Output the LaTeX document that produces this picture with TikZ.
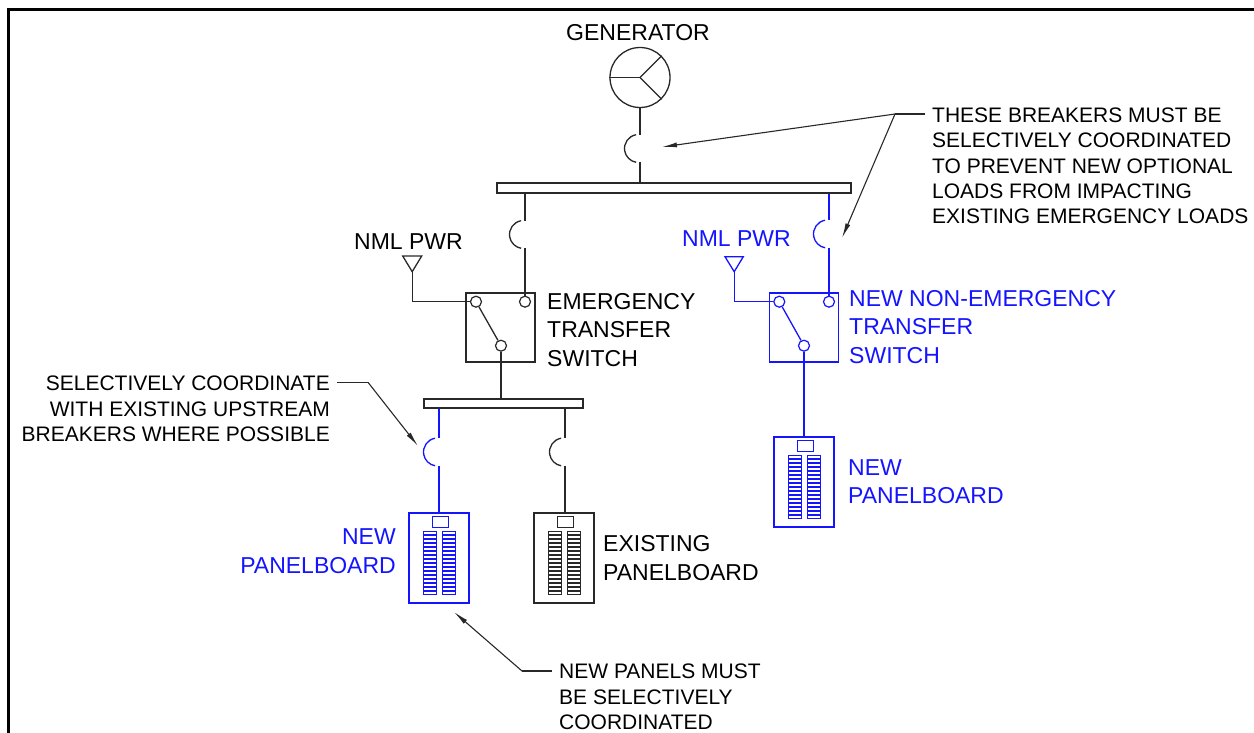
\documentclass[tikz,border=0pt]{standalone}
\usepackage{fontspec}
\setmainfont{Liberation Sans}
\usetikzlibrary{arrows.meta}
\definecolor{ink}{RGB}{40,40,40}
\definecolor{blu}{RGB}{20,20,255}
\tikzset{
  wire/.style={draw=ink, line width=1.3pt},
  bwire/.style={draw=blu, line width=1.3pt},
  lbl/.style={font=\fontsize{23}{28.5}\selectfont, inner sep=0pt},
  note/.style={font=\fontsize{21}{25.3}\selectfont, inner sep=0pt, text=black},
  leader/.style={draw=ink, line width=1.1pt},
  arr/.style={leader, -{Latex[length=15pt,width=5pt]}},
  term/.style={circle, draw, minimum size=11pt, inner sep=0pt, line width=1.2pt, fill=white},
  busbar/.style={draw=ink, line width=1.3pt, inner sep=0pt, fill=white},
  atsbox/.style={draw, line width=1.3pt, minimum width=69pt, minimum height=69pt, inner sep=0pt},
  panelbox/.style={draw, line width=1.2pt, minimum width=60pt, minimum height=90pt, inner sep=0pt},
}
% breaker symbol: #1 name, #2 x of wire, #3 y centre, #4 style
\newcommand{\cbreaker}[4]{%
  \draw[#4] ({#2-1.5},#3) ++(260:14) arc[start angle=260, end angle=100, radius=14];
  \coordinate (#1-t) at (#2,{#3-13.8});
  \coordinate (#1-b) at (#2,{#3+13.8});
}
% panelboard interior relative to top-left corner #1, colour #2
\newcommand{\panelinside}[2]{%
  \begin{scope}[shift={(#1)}, draw=#2, line width=0.8pt]
    \draw (24,4) rectangle (40,15);
    \foreach \i in {0,...,15}{
      \draw (15.3,{18.7+\i*4}) rectangle (28.3,{18.7+\i*4+3});
      \draw (34.3,{18.7+\i*4}) rectangle (47.3,{18.7+\i*4+3});
    }
  \end{scope}
}
\begin{document}
\begin{tikzpicture}[x=1pt,y=-1pt]
\useasboundingbox (0,0) rectangle (1254,733);
% frame
\draw[line width=2.6pt, black] (8.7,745) -- (8.7,9.7) -- (1265,9.7);

% generator
\node[lbl] (genlbl) at (638,33) {GENERATOR};
\node[circle, draw=ink, line width=1.3pt, minimum size=60pt, inner sep=0pt] (gen) at (640,77.5) {};
\draw[wire] (gen.center) -- (gen.west);
\draw[wire] (gen.center) -- (gen.45);
\draw[wire] (gen.center) -- (gen.-45);
\cbreaker{bg}{640}{148.5}{wire}

% main bus
\node[busbar, minimum width=354pt, minimum height=10pt] (bus1) at (674,188) {};
\draw[wire] (gen.south) -- (bg-t);
\draw[wire] (bg-b) -- (bus1.north -| bg-b);

% left branch breaker and emergency ATS
\cbreaker{bl}{525}{234.5}{wire}
\node[atsbox, draw=ink] (ets) at (500.5,327.5) {};
\node[term, draw=ink] (etsL) at (476,301.7) {};
\node[term, draw=ink] (etsR) at (525,301.7) {};
\node[term, draw=ink] (etsB) at (501,345.7) {};
\draw[wire] (bus1.south -| bl-t) -- (bl-t);
\draw[wire] (bl-b) -- (etsR.north);
\draw[wire] (etsL) -- (etsB);
\draw[wire] (402.7,256) -- (421.7,256) -- (412.2,271.7) -- cycle;
\coordinate (srcL) at (412.2,271.7);
\draw[wire] (srcL) |- (etsL.west);
\node[lbl, anchor=east] (nmlL) at (463,242) {NML PWR};
\node[lbl, anchor=west, align=left] (etslbl) at (547,330) {EMERGENCY\\TRANSFER\\SWITCH};

% right branch breaker and non-emergency ATS
\cbreaker{br}{829}{234}{bwire}
\node[atsbox, draw=blu] (ats) at (804,327.5) {};
\node[term, draw=blu] (atsL) at (779.3,301.7) {};
\node[term, draw=blu] (atsR) at (829,301.7) {};
\node[term, draw=blu] (atsB) at (804,345.7) {};
\draw[bwire] (bus1.south -| br-t) -- (br-t);
\draw[bwire] (br-b) -- (atsR.north);
\draw[bwire] (atsL) -- (atsB);
\draw[bwire] (725,256.7) -- (743.3,256.7) -- (734.2,271.7) -- cycle;
\coordinate (srcR) at (734.2,271.7);
\draw[bwire] (srcR) |- (atsL.west);
\node[lbl, anchor=east, text=blu] (nmlR) at (791,239) {NML PWR};
\node[lbl, anchor=west, align=left, text=blu] (atslbl) at (849,327) {NEW NON-EMERGENCY\\TRANSFER\\SWITCH};

% right new panelboard
\node[panelbox, draw=blu] (pR) at (804,482) {};
\panelinside{pR.north west}{blu}
\draw[bwire] (atsB.south) -- (pR.north);
\node[lbl, anchor=west, align=left, text=blu] (pRlbl) at (848,481.5) {NEW\\PANELBOARD};

% emergency distribution bus
\node[busbar, minimum width=159pt, minimum height=9pt] (bus2) at (503.5,403.5) {};
\draw[wire] (etsB.south) -- (bus2.north -| etsB);
\cbreaker{b2l}{439}{452}{bwire}
\cbreaker{b2e}{565}{452}{wire}
\node[panelbox, draw=blu] (pL) at (439,558) {};
\panelinside{pL.north west}{blu}
\node[panelbox, draw=ink] (pE) at (564,558) {};
\panelinside{pE.north west}{ink}
\draw[bwire] (bus2.south -| b2l-t) -- (b2l-t);
\draw[bwire] (b2l-b) -- (pL.north -| b2l-b);
\draw[wire] (bus2.south -| b2e-t) -- (b2e-t);
\draw[wire] (b2e-b) -- (pE.north -| b2e-b);
\node[lbl, anchor=east, align=right, text=blu] (pLlbl) at (396,551) {NEW\\PANELBOARD};
\node[lbl, anchor=west, align=left] (pElbl) at (603,558) {EXISTING\\PANELBOARD};

% notes
\node[note, anchor=west, align=left] (rnote) at (932,166) {THESE BREAKERS MUST BE\\SELECTIVELY COORDINATED\\TO PREVENT NEW OPTIONAL\\LOADS FROM IMPACTING\\EXISTING EMERGENCY LOADS};
\coordinate (rnA) at (925,114);
\coordinate (rnK) at (895,114);
\coordinate (tipG) at (662,147);
\coordinate (tipR) at (842,238);
\draw[leader] (rnA) -- (rnK);
\draw[arr] (rnK) -- (tipG);
\draw[arr] (rnK) -- (tipR);

\node[note, anchor=east, align=right] (lnote) at (330,409) {SELECTIVELY COORDINATE\\WITH EXISTING UPSTREAM\\BREAKERS WHERE POSSIBLE};
\coordinate (lnA) at (337,382.3);
\coordinate (lnK) at (368,382.3);
\coordinate (tipL) at (418,446);
\draw[leader] (lnA) -- (lnK);
\draw[arr] (lnK) -- (tipL);

\node[note, anchor=west, align=left] (bnote) at (559,697) {NEW PANELS MUST\\BE SELECTIVELY\\COORDINATED};
\coordinate (bnA) at (552,671);
\coordinate (bnK) at (522,671);
\coordinate (tipP) at (454,612);
\draw[leader] (bnA) -- (bnK);
\draw[arr] (bnK) -- (tipP);
\end{tikzpicture}
\end{document}
